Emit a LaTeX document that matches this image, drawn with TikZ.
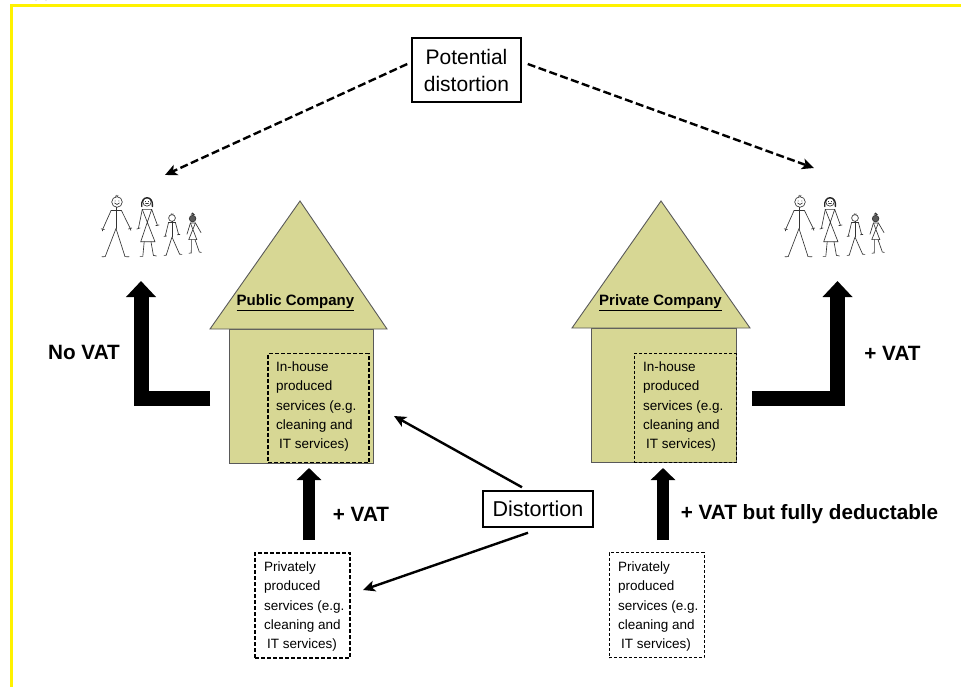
\documentclass[tikz,border=0pt]{standalone}
\usepackage{fontspec}
\setmainfont{Liberation Sans}
\usetikzlibrary{arrows.meta}
\newcommand{\smalltext}{\fontsize{13.5}{19.3}\selectfont}
\newcommand{\largetext}{\fontsize{21}{27}\selectfont}
\newcommand{\labeltext}{\fontsize{20.7}{24}\selectfont\bfseries}
\newcommand{\housetext}{\fontsize{15}{19}\selectfont\bfseries}
\newcommand{\inhouselines}{In-house\\produced\\services (e.g.\\cleaning and\\\hspace{3pt}IT services)}
\newcommand{\privatelines}{Privately\\produced\\services (e.g.\\cleaning and\\\hspace{3pt}IT services)}
\begin{document}
\begin{tikzpicture}[x=1pt,y=-1pt,
    main node/.style={draw,line width=1.5pt,align=center,font=\largetext,inner sep=0pt,minimum height=36pt},
    label node/.style={font=\labeltext,inner sep=0pt},
    house name/.style={font=\housetext,inner sep=0pt},
    service text/.style={font=\smalltext,align=left,inner sep=0pt,anchor=north west},
    thick box/.style={draw,line width=1.8pt,dash pattern=on 4pt off 2pt},
    thin box/.style={draw,line width=1pt,dash pattern=on 3pt off 2pt},
    house/.style={draw=black!65,fill=roof,line width=0.9pt,line join=miter},
    flow/.style={line width=12pt,-{Triangle[length=12pt,width=24pt]}},
    bigflow/.style={line width=15pt,-{Triangle[length=16pt,width=29pt]}},
    pointer/.style={line width=2.4pt,-{Stealth[length=12pt,width=11pt,inset=3pt]}},
    maybe/.style={pointer,dash pattern=on 8pt off 3.5pt},
    family/.pic={
        \begin{scope}[line width=0.65pt,black!80,line cap=round]
            % father
            \draw (0,0) circle (5.3);
            \draw (-2.4,1) .. controls (-1,3) and (1,3) .. (2.4,1);
            \fill (-1.8,-1) circle (0.5) (1.8,-1) circle (0.5);
            \draw (-1.5,-5.5) -- (-0.5,-6.8) (0.5,-5.4) -- (1,-6.8);
            \draw (-1,5.3) -- (-1,26.5) (-6,8.7) -- (4.5,8.7);
            \draw (-6,8.7) -- (-14.2,27) (4.5,8.7) -- (13.2,26.3);
            \draw (-15.8,26.8) -- (-12.6,27.6) (-14.2,27) -- (-14.6,29) (11.4,27) -- (14.8,26) (13.2,26.3) -- (13.8,28.4);
            \draw (-1,26.5) -- (-11.8,54.6) -- (-15,54.8) (-1,26.5) -- (8,54.6) -- (12,54.8);
            % mother
            \draw (30,0) circle (4.2);
            \draw (28.4,-0.6) -- (28.4,-0.3) (31.6,-0.6) -- (31.6,-0.3) (28.6,1.6) -- (31.4,1.6);
            \draw[line width=1.3pt,black!85] (24.8,4.6) .. controls (23,-7) and (37,-7.5) .. (35.4,4.6);
            \draw (25.3,7.4) -- (34.7,7.4) (25.3,7.4) -- (38,39.8) -- (23.7,39.8) -- (34.7,7.4);
            \draw (25.3,7.4) -- (21.4,26.4) (34.7,7.4) -- (40.4,23.2);
            \draw (19.8,27) -- (23,26) (38.8,23.6) -- (42,23);
            \draw (27.2,39.8) -- (25.8,54.4) -- (23,54.4) (34,39.8) -- (36.4,53.4) -- (39.4,54);
            % son
            \draw (55,16) circle (3.4);
            \draw (54,12.6) -- (54.4,11.6) (56,12.6) -- (56,11.6);
            \draw (55,19.4) -- (55,35) (51.6,20.4) -- (58.4,20.4);
            \draw (51.6,20.4) -- (48.2,34.2) (58.4,20.4) -- (61.6,32.6);
            \draw (47,34.4) -- (49.6,34) (60.4,32.8) -- (63,32.4);
            \draw (55,35) -- (49.2,53.2) -- (47,53.4) (55,35) -- (62.6,52.2) -- (65,52.4);
            % daughter
            \draw[fill=black!65] (75.6,16.6) circle (3.3);
            \fill (73.6,12.4) -- (75.6,10.4) -- (78,13) -- cycle;
            \draw (73.4,21) -- (78.4,21) (73.4,21) -- (79.8,37.6) -- (71.8,37.6) -- (78.4,21);
            \draw (73.4,21) -- (70,32.2) (78.4,21) -- (84,30.6);
            \draw (74.4,37.6) -- (74.3,51) -- (72,51.2) (78,37.6) -- (82.3,50) -- (84.4,50.4);
        \end{scope}
    }]
    \definecolor{roof}{HTML}{D7D794}
    \useasboundingbox (0,0) rectangle (961,687);

    \fill[yellow] (10,4) rectangle (961,7);
    \fill[yellow] (10,4) rectangle (13,687);
    \draw[line width=1.2pt] (35.5,0) arc[start angle=180,end angle=360,x radius=5.5,y radius=3];

    \draw[house] (229.5,329) rectangle (373.5,463);
    \draw[house] (210,329) -- (300,201) -- (387,329) -- cycle;
    \draw[house] (591,328) rectangle (736,462);
    \draw[house] (572,328) -- (661,201) -- (750,328) -- cycle;

    \node[house name] (public) at (295.5,303) {\underline{Public Company}};
    \node[house name] (private) at (660.5,303) {\underline{Private Company}};

    \node[thick box,minimum width=101pt,minimum height=109pt,inner sep=0pt] (inpublic) at (318.5,408) {};
    \node[service text] (inpublictext) at (276,361.5) {\inhouselines};
    \node[thin box,minimum width=102pt,minimum height=109pt,inner sep=0pt] (inprivate) at (685,408) {};
    \node[service text] (inprivatetext) at (643,361.5) {\inhouselines};

    \node[thick box,minimum width=95pt,minimum height=105pt,inner sep=0pt] (outpublic) at (302.5,605.5) {};
    \node[service text] (outpublictext) at (264,561.5) {\privatelines};
    \node[thin box,minimum width=95pt,minimum height=105pt,inner sep=0pt] (outprivate) at (656.5,605) {};
    \node[service text] (outprivatetext) at (618,561.5) {\privatelines};

    \node[main node,minimum width=109pt,minimum height=64pt] (potential) at (466.5,70) {Potential\\distortion};
    \node[main node,font=\fontsize{21.5}{27}\selectfont,minimum width=110pt] (distortion) at (538,509) {Distortion};

    \pic at (117,202) {family};
    \pic at (800,202) {family};

    \node[label node] (novat) at (84,352) {No VAT};
    \node[label node] (vatright) at (892.5,353) {+ VAT};
    \node[label node] (vatleft) at (361,514) {+ VAT};
    \node[label node] (vatfull) at (809.5,514) {+ VAT but fully deductable};

    \coordinate (novatstart) at (210,398.5);
    \coordinate (novatend) at (141,281);
    \coordinate (vatstart) at (752,398.5);
    \coordinate (vatend) at (837.5,281);
    \coordinate (publicin) at (309,540);
    \coordinate (publicup) at (309,468);
    \coordinate (privatein) at (663,540);
    \coordinate (privateup) at (663,468);
    \coordinate (distortpublic) at (394,416);
    \coordinate (distortprivate) at (363,590);
    \coordinate (familyleft) at (165,175);
    \coordinate (familyright) at (814,168);

    \draw[bigflow] (novatstart) -| (novatend);
    \draw[bigflow] (vatstart) -| (vatend);
    \draw[flow] (publicin) -- (publicup);
    \draw[flow] (privatein) -- (privateup);

    \path
    ([shift={(-16,-3)}]distortion.north) edge[pointer] (distortpublic)
    ([shift={(-10,5)}]distortion.south) edge[pointer] (distortprivate)
    ([shift={(-4,-6)}]potential.west) edge[maybe] (familyleft)
    ([shift={(6,-6)}]potential.east) edge[maybe] (familyright);
\end{tikzpicture}
\end{document}
